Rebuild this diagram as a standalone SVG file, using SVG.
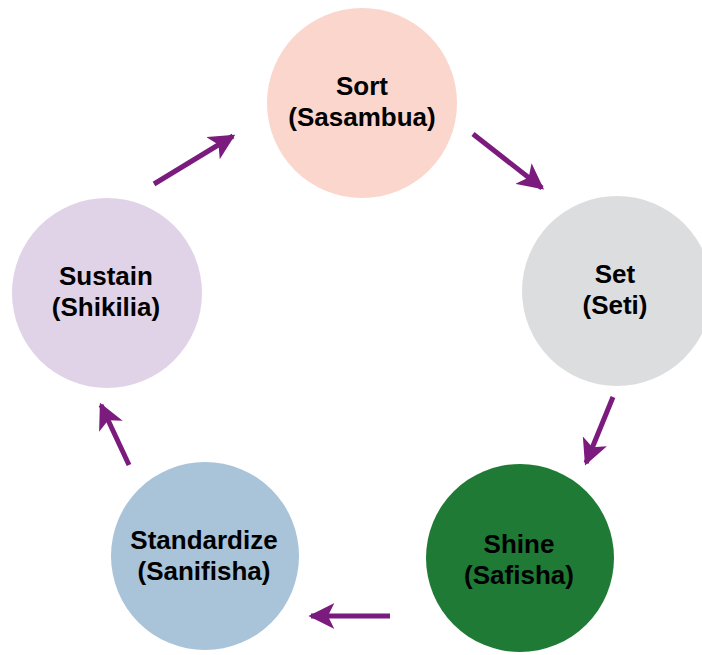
<svg xmlns="http://www.w3.org/2000/svg" width="702" height="655" viewBox="0 0 702 655">
  <defs>
    <marker id="head" viewBox="0 0 10 10" refX="9" refY="5" markerWidth="5.2" markerHeight="5.2" markerUnits="strokeWidth" orient="auto">
      <path d="M0,0 L10,5 L0,10 L2.5,5 Z" fill="#7B1B7E"/>
    </marker>
    <style>
      .lbl { font-family: "Liberation Sans", Arial, sans-serif; font-size: 26px; font-weight: bold; fill: #000; text-anchor: middle; }
      .link { stroke: #7B1B7E; stroke-width: 5; fill: none; marker-end: url(#head); }
    </style>
  </defs>
  <rect width="702" height="655" fill="#fff"/>

  <g id="connectors">
    <line class="link" x1="473" y1="134" x2="542" y2="188"/>
    <line class="link" x1="613" y1="397" x2="586" y2="463"/>
    <line class="link" x1="390" y1="616" x2="311" y2="616"/>
    <line class="link" x1="129" y1="465" x2="101" y2="405"/>
    <line class="link" x1="154" y1="184" x2="233" y2="136"/>
  </g>

  <g id="sort">
    <circle cx="362" cy="103" r="95" fill="#FAD6CD"/>
    <text class="lbl" x="362" y="95">Sort</text>
    <text class="lbl" x="362" y="126">(Sasambua)</text>
  </g>

  <g id="set">
    <circle cx="617" cy="291" r="95" fill="#DCDDDF"/>
    <text class="lbl" x="615" y="283">Set</text>
    <text class="lbl" x="615" y="314">(Seti)</text>
  </g>

  <g id="shine">
    <circle cx="520" cy="558" r="94" fill="#1E7A34"/>
    <text class="lbl" x="519" y="553">Shine</text>
    <text class="lbl" x="519" y="584">(Safisha)</text>
  </g>

  <g id="standardize">
    <circle cx="205" cy="556" r="94" fill="#A9C3D9"/>
    <text class="lbl" x="204" y="549">Standardize</text>
    <text class="lbl" x="204" y="580">(Sanifisha)</text>
  </g>

  <g id="sustain">
    <circle cx="107" cy="293" r="95" fill="#E0D3E8"/>
    <text class="lbl" x="106" y="285">Sustain</text>
    <text class="lbl" x="106" y="316">(Shikilia)</text>
  </g>
</svg>
